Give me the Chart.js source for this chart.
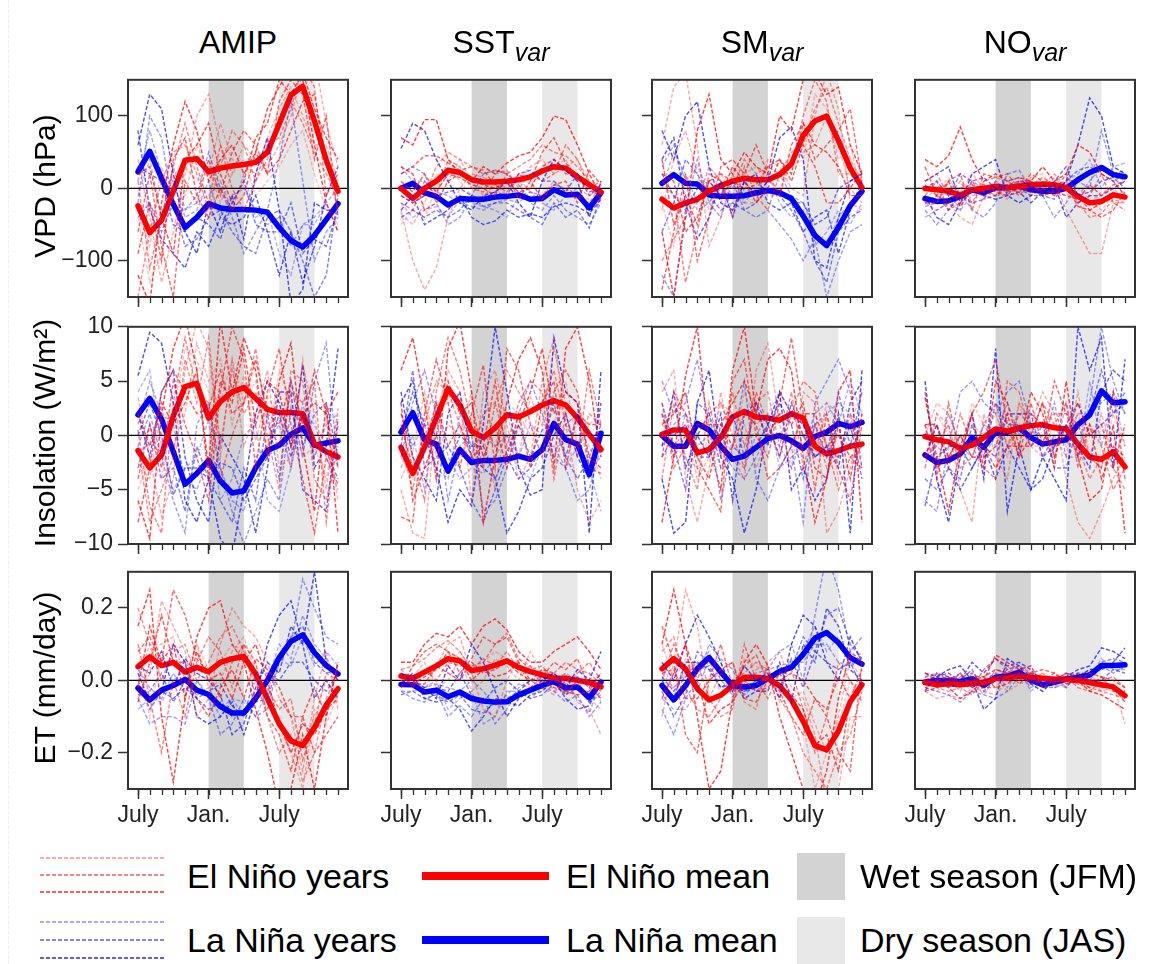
<!DOCTYPE html>
<html>
<head>
<meta charset="utf-8">
<script src="https://cdn.jsdelivr.net/npm/chart.js@4.4.0/dist/chart.umd.min.js"></script>
<style>
  body { margin: 0; background: #fff; width: 1156px; height: 964px; position: relative; overflow: hidden;
         font-family: "Liberation Sans", Arial, Helvetica, sans-serif; color: #000; }
  canvas { position: absolute; }
  .edge { position: absolute; left: 8px; top: 0; height: 964px; border-left: 1px dashed #eceef4; }
  .title { position: absolute; top: 26px; width: 220px; text-align: center; font-size: 32px; line-height: 1; white-space: nowrap; }
  .title i { font-size: 25px; position: relative; top: 8px; }
  .ylab { position: absolute; font-size: 30px; line-height: 1; white-space: nowrap; transform: translate(-50%, -50%) rotate(-90deg); }
  .leg { position: absolute; font-size: 34px; line-height: 1; white-space: nowrap; transform: translateY(-50%); }
  .swatch { position: absolute; width: 48px; height: 47px; }
  svg { position: absolute; }
</style>
</head>
<body>
<div class="edge"></div>
<script>
// ---- axes ----
const months = [0, 1, 2, 3, 4, 5, 6, 7, 8, 9, 10, 11, 12, 13, 14, 15, 16, 17];
const xMajor = [0, 6, 12];
const xMajorLabels = ['July', 'Jan.', 'July'];
const wetSeason = [6, 9];     // JFM
const drySeason = [12, 15];   // JAS

const columnTitles = ['AMIP', 'SST', 'SM', 'NO'];
const columnSubs = ['', 'var', 'var', 'var'];
const rowLabels = ['VPD (hPa)', 'Insolation (W/m²)', 'ET (mm/day)'];

const vpdRange = [-150, 150];
const vpdTicks = [-100, 0, 100];
const insRange = [-10, 10];
const insTicks = [-10, -5, 0, 5, 10];
const etRange = [-0.3, 0.3];
const etTicks = [-0.2, 0, 0.2];

// ---- AMIP ----
const amipVpdNinoMean = [-24, -61, -44, -4, 39, 41, 23, 28, 31, 33, 36, 50, 89, 129, 141, 93, 39, -4];
const amipVpdNinaMean = [23, 51, 14, -22, -54, -40, -21, -27, -29, -29, -30, -33, -54, -72, -81, -65, -43, -21];
const amipVpdNino = [
  [-120, -160, -20, 60, 120, 80, 10, 40, 60, 20, 50, 110, 140, 170, 150, 60, -20, -60],
  [40, -40, -130, -60, 20, 100, 130, 60, 20, 60, 40, 30, 60, 100, 160, 180, 90, 30],
  [-60, 20, -80, -150, 10, -20, 40, -10, 50, 80, 60, 20, 120, 150, 130, 40, 100, -40],
  [10, -110, -40, 30, 90, 30, -20, 60, 0, -30, 10, 60, 70, 110, 170, 140, -10, 20],
  [-30, -80, 30, -20, -10, 60, 20, 90, 40, 30, 20, 70, 110, 140, 100, 60, 60, 10],
  [-90, -20, -100, 40, 70, -10, -40, 0, -30, -10, 50, 20, 40, 80, 120, 130, 40, -30],
  [-150, -60, 10, 50, 60, 20, -30, 30, 80, 60, 10, 40, 100, 120, 90, 50, 20, -10],
  [20, 30, -40, -90, 40, 60, 90, 20, -20, 10, 70, 90, 150, 130, 160, 110, 70, 40],
  [-40, -130, -90, 20, 30, 10, 30, -20, 20, 40, -10, 10, 30, 60, 80, 20, -30, -50]
];
const amipVpdNina = [
  [60, 130, 110, 20, -60, -90, -20, -60, -10, -70, 20, 70, -30, -160, -140, -20, -30, -30],
  [-20, 100, 70, -30, -30, -10, 50, 0, -40, -90, -60, -30, 40, 120, 10, -100, -60, -40],
  [80, -30, -70, -90, -110, -60, -80, -40, -50, -40, -10, -60, -120, -60, -130, -80, -10, 30],
  [-10, 40, -40, 30, -30, -20, -10, 10, -30, 20, -40, -30, -90, -120, -50, -50, -20, -60],
  [30, 20, 10, -50, -60, -40, -50, -70, -20, 10, -50, -60, -60, -20, -90, -70, -80, -30],
  [-40, -20, -60, -20, -80, -70, -40, -30, -60, -80, -90, -40, -30, -60, -100, -150, -120, -10],
  [10, 80, 20, 10, -40, -30, 10, -40, -10, 0, -30, -50, -40, -80, -50, -40, -20, 0]
];
const amipInsNinoMean = [-1.4, -3.0, -1.8, 1.8, 4.5, 4.8, 1.6, 3.1, 4.0, 4.4, 3.4, 2.4, 2.1, 2.1, 2.0, -0.8, -1.5, -2.0];
const amipInsNinaMean = [1.9, 3.4, 1.5, -1.5, -4.5, -3.5, -2.3, -4.2, -5.3, -5.1, -3.0, -1.4, -0.9, 0.1, 0.7, -0.9, -0.7, -0.5];
const amipInsNino = [
  [-6.0, -9.5, 2.0, 8.0, 11.0, 6.0, -3.0, 10.5, 4.0, 9.0, 6.0, -2.0, 5.0, 8.5, -1.0, -7.0, 3.0, -9.0],
  [3.5, -2.0, -7.5, -4.0, 6.0, 10.5, 8.0, -2.0, 7.0, -1.0, 2.0, 6.0, -3.0, -2.0, 6.5, 2.0, -5.0, 2.5],
  [-4.0, 1.0, -3.0, 5.0, 1.0, -2.0, -6.0, 4.0, 10.0, 7.0, -3.0, 4.0, 8.0, 1.0, -4.0, -9.0, -2.0, -4.5],
  [0.5, -6.5, -9.0, 3.0, 9.0, 4.0, 3.0, -4.0, 0.0, 3.0, 8.0, 1.0, -1.0, 4.0, 3.0, 5.0, -8.0, 1.0],
  [-2.5, -4.0, 2.5, -1.0, 2.0, 8.5, 5.0, 7.0, 1.0, 5.5, -0.5, 3.5, 2.0, -3.0, 7.0, -2.0, 1.5, -6.0],
  [-8.0, -3.0, 4.0, 6.0, 4.0, 2.0, 2.5, 6.0, 2.0, 3.0, 7.0, 2.0, 1.0, 5.0, 1.0, 6.0, 2.0, 4.0],
  [-1.0, -8.0, -5.0, -2.0, 7.0, 3.0, 9.0, -1.0, 6.0, 2.0, 4.0, 0.0, -5.0, 6.0, 5.0, -4.0, -6.0, -1.0],
  [2.0, -1.0, 3.0, 1.0, 3.0, 6.0, -4.0, 5.0, 3.0, 8.0, 1.0, 5.0, 4.0, -1.0, 2.0, 3.0, 2.0, -3.0],
  [-5.0, -2.0, -4.0, 2.0, 8.0, 7.0, 4.0, 3.0, 7.0, 3.0, 5.0, -1.0, 6.0, 3.0, -2.0, -1.0, -4.0, 2.0]
];
const amipInsNina = [
  [5.5, 9.5, 8.5, 3.0, -6.0, -8.0, -4.0, -9.5, -11.0, -5.0, 2.0, 5.0, 3.0, -1.0, 6.5, -3.0, -1.0, 8.0],
  [-1.0, 2.0, -2.0, -6.0, -9.0, 1.0, 3.0, -3.0, -7.0, -10.0, -7.0, -4.0, -6.0, 2.5, -2.0, 5.0, 8.5, -3.0],
  [2.0, -2.0, 4.0, 6.0, -2.0, -6.0, -8.0, 0.0, -2.0, -4.0, -9.0, -3.0, 4.0, 4.0, -5.0, -6.0, -7.0, 1.5],
  [4.0, 6.0, -1.0, -5.0, -3.0, -2.0, 1.5, -6.0, -4.0, 0.0, 1.0, -6.0, -7.0, -3.0, 2.0, 1.0, -2.0, -5.0],
  [0.0, 3.0, 0.0, -5.5, -3.0, -3.0, -4.0, -2.5, -3.0, -6.0, -4.0, -2.0, 2.0, -2.0, 2.0, -1.0, -1.5, -4.0],
  [-3.0, 1.0, -4.0, -3.0, -7.0, -1.0, -4.0, -6.0, -8.0, -3.0, -6.0, 2.0, -4.0, 5.0, -1.0, 2.0, 3.0, -2.0],
  [1.0, 5.0, 2.0, 1.0, -4.0, -5.0, -2.0, -3.0, -6.0, -7.0, -2.0, -1.0, 1.0, -3.0, 3.0, -2.0, 1.0, 2.0]
];
const amipEtNinoMean = [0.038, 0.065, 0.041, 0.05, 0.023, 0.036, 0.024, 0.05, 0.06, 0.066, 0.018, -0.05, -0.12, -0.167, -0.18, -0.13, -0.068, -0.023];
const amipEtNinaMean = [-0.021, -0.054, -0.027, -0.014, 0.003, -0.027, -0.039, -0.072, -0.09, -0.09, -0.05, 0, 0.063, 0.108, 0.126, 0.077, 0.041, 0.018];
const amipEtNino = [
  [0.15, 0.25, -0.1, -0.28, -0.05, 0.12, 0.2, 0.22, 0.1, 0.05, -0.08, -0.2, -0.35, -0.3, -0.15, -0.3, -0.1, 0.05],
  [-0.05, 0.02, 0.22, 0.15, 0.08, -0.1, -0.05, 0.1, 0.2, 0.15, 0.12, 0.05, -0.05, -0.1, -0.25, -0.05, 0.08, -0.08],
  [0.08, 0.12, 0.05, 0.25, 0.18, 0.06, 0.02, -0.05, 0.05, 0.1, 0.05, -0.1, -0.15, -0.25, -0.1, -0.2, -0.15, -0.1],
  [0.1, -0.05, -0.2, 0.0, -0.1, 0.05, 0.12, 0.08, -0.02, 0.1, -0.05, -0.02, -0.08, -0.05, -0.22, -0.12, 0.02, 0.0],
  [0.0, 0.1, 0.1, 0.12, 0.0, 0.1, -0.02, 0.0, 0.08, 0.12, 0.02, -0.06, -0.1, -0.2, -0.3, -0.08, -0.12, -0.04],
  [-0.06, 0.05, 0.18, 0.05, 0.05, -0.05, -0.1, -0.02, 0.03, -0.05, 0.06, 0.03, -0.02, -0.1, -0.1, -0.02, -0.1, 0.05],
  [0.2, 0.1, 0.0, 0.08, 0.1, 0.0, 0.05, 0.12, 0.15, 0.08, 0.0, -0.1, -0.2, -0.15, -0.28, -0.2, -0.05, 0.02],
  [-0.02, 0.15, 0.05, 0.1, -0.05, 0.08, 0.0, 0.02, -0.05, 0.05, 0.1, 0.0, -0.12, -0.2, -0.12, -0.15, -0.08, -0.05],
  [0.05, -0.1, 0.08, 0.05, 0.02, 0.1, 0.03, 0.05, 0.1, 0.08, -0.02, -0.08, -0.05, -0.1, -0.18, -0.1, 0.0, -0.06]
];
const amipEtNina = [
  [0.02, -0.06, -0.03, 0.1, 0.05, -0.1, -0.12, -0.1, -0.06, -0.15, -0.05, 0.1, 0.18, 0.22, 0.1, 0.3, 0.05, 0.0],
  [-0.05, -0.12, -0.1, -0.1, -0.12, 0.0, -0.05, -0.15, -0.12, -0.05, -0.1, -0.08, 0.05, 0.1, 0.28, 0.2, 0.12, 0.1],
  [0.04, 0.02, 0.08, -0.02, 0.06, 0.02, 0.0, -0.04, -0.15, -0.12, -0.02, 0.05, 0.02, 0.15, 0.1, -0.05, 0.0, -0.05],
  [-0.08, -0.05, -0.06, 0.0, 0.03, -0.04, -0.02, -0.08, -0.05, -0.06, -0.1, -0.03, 0.06, 0.04, 0.12, 0.04, 0.08, 0.04],
  [0.0, -0.08, -0.03, -0.05, -0.02, -0.05, -0.03, -0.01, -0.07, -0.1, 0.02, 0.02, 0.0, 0.05, 0.05, 0.0, -0.03, 0.02],
  [-0.04, -0.03, 0.02, -0.06, 0.0, -0.05, -0.08, -0.06, -0.1, -0.08, -0.06, -0.05, 0.05, 0.12, 0.15, 0.05, 0.02, 0.03],
  [0.03, -0.02, -0.05, 0.02, -0.03, 0.0, -0.04, -0.1, -0.05, -0.1, -0.04, 0.0, 0.1, 0.06, 0.18, 0.1, 0.06, 0.0]
];

// ---- SST_var ----
const sstVpdNinoMean = [0, -14, 0, 10, 25, 22, 12, 9, 9, 10, 12, 16, 24, 30, 28, 16, 5, -5];
const sstVpdNinaMean = [0, 7, -6, -11, -23, -14, -15, -15, -12, -11, -9, -15, -14, -2, -9, -8, -27, -6];
const sstVpdNino = [
  [70, 60, 95, 95, 40, 20, 10, 30, 20, 35, 45, 50, 70, 100, 95, 60, 20, -10],
  [-30, -100, -140, -110, -40, 0, 20, 15, 10, 5, 10, 30, 40, 20, 30, 40, 10, 0],
  [20, 30, 45, 45, 35, 25, 30, 25, 5, -5, 20, 10, 50, 70, 35, 15, 5, -15],
  [-20, -30, 10, -10, 40, 30, 0, -5, 20, 25, 0, 20, 10, 20, 60, 40, 0, 10],
  [-35, -50, -20, 20, 10, 40, 10, -10, 5, -10, 15, -5, -10, 10, -5, -10, -15, -25],
  [10, -5, 20, -5, 20, 15, 5, 0, -10, 20, -15, 10, -15, 5, 10, -20, 25, 5],
  [-10, -20, -10, 30, 50, 40, 30, 20, 25, 20, 30, 40, 60, 50, 45, 30, 10, -20],
  [30, 20, -30, -20, 10, 20, 10, 5, 0, 10, -5, 0, 30, 40, 20, 20, -10, 5],
  [-50, -30, -40, 0, 30, 10, -10, -15, 10, 0, 20, 5, 20, 30, 40, 10, 0, -15]
];
const sstVpdNina = [
  [55, 90, 80, 40, 10, -20, -30, -10, -5, 10, -20, -40, 10, 40, 25, 10, -40, 10],
  [20, 30, 20, -20, -50, -40, -10, 20, 25, 20, 5, -20, -30, -10, -30, -40, -50, -20],
  [-30, -10, -50, -40, -30, -10, -40, -50, -45, -30, -40, -35, -40, -25, -20, -25, -35, -15],
  [-20, -40, -30, -25, -40, -15, -20, -25, -30, -40, -10, -5, -20, -30, -10, 0, -10, 0],
  [-10, -20, -10, -10, -5, 0, -10, -15, -5, -10, 20, 25, 10, 10, -5, 20, -5, 0],
  [-40, -30, -40, -30, -40, -30, -10, -25, -20, -20, -30, -40, -50, -20, -40, -30, -55, -10],
  [30, 10, 10, -5, -10, -20, -25, -30, -20, -15, -20, -5, -10, 5, 0, -15, -20, 5]
];
const sstInsNinoMean = [-1.1, -3.5, -1.1, 1.6, 4.3, 2.8, 0.4, -0.2, 0.7, 1.9, 1.7, 2.2, 2.8, 3.2, 2.8, 1.6, 0.1, -1.3];
const sstInsNinaMean = [0.3, 2.1, -0.4, -0.8, -3.3, -1.3, -2.5, -2.3, -2.3, -2.2, -1.9, -2.2, -1.3, 1.1, -0.4, -0.8, -3.6, 0.2];
const sstInsNino = [
  [6.0, 9.0, 3.0, -4.0, 8.0, 10.5, 4.0, -8.0, -2.0, 3.0, 7.0, 9.0, 6.0, -3.0, 8.0, 10.0, 5.0, -2.0],
  [-5.0, -9.0, -9.5, 2.0, 6.0, 4.0, -6.0, 4.0, 6.0, 1.0, -4.0, -2.0, 5.0, 9.0, 1.0, -5.0, -8.0, -6.0],
  [-7.5, -8.0, 2.0, 7.0, 3.0, -3.0, 2.0, 6.5, -3.0, 8.0, 6.0, 1.0, -2.0, 4.0, 6.0, 4.0, -3.0, -3.5],
  [2.0, -2.0, -6.0, 4.0, 9.0, 6.0, 1.0, -3.0, 3.0, -1.0, 3.0, 5.0, 4.0, -4.0, 2.0, -2.0, 6.0, 1.0],
  [-4.0, -1.5, 4.0, -2.0, 1.0, 0.0, 4.0, 0.0, -5.0, 2.0, -2.0, 3.5, 1.0, 8.0, 3.0, 1.0, -1.0, -4.0],
  [1.0, -3.0, -1.0, 3.0, -1.0, 1.0, -2.0, -1.0, 5.0, -2.0, 2.0, -3.0, 3.0, 5.0, -3.0, 2.0, 1.0, 1.0],
  [-1.0, -5.0, 1.0, 5.0, 4.0, 1.0, -2.0, 2.0, 3.0, 6.0, 4.0, 2.0, 3.0, 6.0, 1.0, -1.0, 2.0, 1.0],
  [3.0, -6.0, -3.0, 0.0, 5.0, 2.0, 3.0, -2.0, 1.0, -3.0, 1.0, 4.0, 8.0, 2.0, 4.0, 3.0, -2.0, -3.0],
  [-2.0, -4.0, 0.0, 2.0, 3.0, 4.0, 0.0, 1.0, -1.0, 3.0, 2.0, 0.0, 1.0, 1.0, 5.0, -1.0, 1.0, 2.0]
];
const sstInsNina = [
  [3.0, 5.0, 0.0, -3.0, -8.0, -5.0, -6.5, 1.0, 10.0, 4.0, -3.0, -5.5, -5.0, 9.0, 4.0, 3.0, -9.0, 6.0],
  [-2.0, 3.0, 6.0, 2.0, -6.0, -1.0, 0.0, -7.0, -6.0, -3.0, 2.0, 5.0, 2.0, -2.0, -3.0, -6.0, -5.0, -1.0],
  [4.0, -2.0, -4.0, -6.0, 2.0, 4.0, -2.0, -3.0, -4.0, -9.0, -7.0, -4.0, -3.0, 0.0, 2.0, -2.0, -4.0, 3.0],
  [-3.0, 0.0, -5.0, 3.0, -2.0, -4.0, -3.0, -3.5, -2.0, 0.0, -3.0, -4.0, -1.0, -1.0, -3.0, -1.0, -3.0, -7.0],
  [0.0, 4.0, 1.0, 0.0, -3.0, 0.0, -1.0, -1.0, -4.0, -1.5, 1.0, -2.0, 0.5, 1.0, -2.0, 2.0, 0.0, 0.0],
  [-1.0, 6.0, -3.0, -2.0, -1.0, -3.0, -6.0, -8.0, -5.0, -2.0, -4.0, -3.0, -1.0, 3.0, -2.0, -4.0, -2.0, 1.0],
  [2.0, -1.0, 1.0, -3.0, -4.0, 2.0, -1.0, 0.0, -1.0, 0.0, -2.0, 1.0, 0.0, -2.0, 1.0, 2.0, -3.0, -2.0]
];
const sstEtNinoMean = [0.012, 0.006, 0.023, 0.04, 0.06, 0.054, 0.027, 0.032, 0.042, 0.054, 0.036, 0.024, 0.015, 0.006, 0.006, 0, -0.006, -0.018];
const sstEtNinaMean = [-0.011, -0.012, -0.032, -0.027, -0.045, -0.032, -0.05, -0.057, -0.06, -0.059, -0.04, -0.027, -0.014, -0.003, -0.021, -0.018, -0.048, -0.005];
const sstEtNino = [
  [0.05, 0.05, 0.1, 0.13, 0.12, 0.15, 0.1, 0.15, 0.17, 0.14, 0.08, 0.05, 0.05, 0.08, 0.1, 0.12, 0.08, 0.03],
  [0.03, 0.0, -0.03, 0.04, 0.1, 0.12, 0.02, -0.08, -0.1, 0.0, 0.06, 0.04, -0.02, -0.04, 0.02, -0.06, -0.08, -0.15],
  [-0.02, 0.04, 0.08, 0.1, 0.08, 0.02, 0.06, 0.12, 0.1, 0.12, 0.05, -0.02, 0.01, 0.05, 0.03, 0.06, -0.02, -0.05],
  [0.02, -0.02, 0.03, 0.0, 0.05, 0.04, 0.04, 0.05, 0.1, 0.13, 0.06, 0.03, 0.04, 0.0, -0.02, 0.02, 0.05, 0.0],
  [0.0, 0.01, 0.05, -0.02, 0.0, 0.06, -0.03, 0.0, 0.06, 0.04, 0.0, 0.08, 0.02, -0.03, 0.0, -0.02, 0.02, -0.06],
  [0.01, -0.01, -0.01, 0.04, 0.02, 0.0, 0.05, 0.02, 0.03, 0.05, 0.02, 0.0, 0.03, 0.02, -0.04, 0.0, -0.01, -0.03],
  [0.03, 0.04, 0.06, 0.09, 0.11, 0.08, 0.03, 0.06, 0.04, 0.08, 0.03, 0.04, 0.01, 0.02, 0.05, 0.03, 0.02, -0.01],
  [0.0, -0.01, 0.01, 0.03, 0.08, 0.06, 0.0, 0.03, 0.01, 0.02, 0.05, 0.0, 0.0, -0.02, -0.03, -0.04, -0.03, 0.02],
  [-0.02, 0.0, 0.02, 0.05, 0.04, 0.08, 0.02, 0.05, 0.08, 0.06, 0.04, 0.02, 0.03, 0.01, -0.01, 0.0, -0.05, -0.08]
];
const sstEtNina = [
  [0.02, 0.0, -0.02, -0.05, 0.04, 0.0, 0.1, 0.05, -0.03, -0.1, -0.05, -0.03, 0.0, 0.02, -0.02, 0.03, 0.0, 0.08],
  [-0.03, -0.05, -0.06, -0.03, -0.1, -0.07, -0.1, -0.05, -0.12, -0.08, -0.02, 0.0, -0.02, -0.03, -0.06, -0.04, -0.1, -0.06],
  [-0.01, 0.02, -0.05, -0.06, -0.05, -0.08, -0.14, -0.1, -0.05, -0.06, -0.07, -0.04, -0.03, 0.0, -0.05, -0.08, -0.07, 0.0],
  [-0.03, -0.03, -0.02, 0.0, -0.08, -0.05, -0.03, -0.12, -0.1, -0.03, -0.03, -0.05, -0.02, 0.0, 0.02, 0.0, -0.06, -0.04],
  [0.0, -0.01, -0.04, -0.02, -0.03, 0.02, -0.04, -0.06, -0.02, 0.0, -0.03, 0.0, 0.01, -0.01, 0.0, 0.01, -0.02, 0.02],
  [-0.04, -0.03, -0.05, -0.04, -0.06, -0.04, -0.08, -0.09, -0.06, -0.05, -0.03, -0.05, -0.04, -0.01, -0.04, -0.02, -0.06, -0.03],
  [0.01, 0.0, -0.02, -0.01, -0.02, -0.03, 0.0, -0.03, -0.07, -0.04, -0.01, -0.02, 0.0, 0.02, -0.01, -0.05, -0.09, 0.0]
];

// ---- SM_var ----
const smVpdNinoMean = [-15, -27, -20, -15, -4, 4, 10, 14, 12, 12, 19, 34, 73, 93, 100, 66, 28, 1];
const smVpdNinaMean = [7, 19, 7, 6, -9, -11, -11, -10, -6, -3, -6, -14, -38, -65, -79, -54, -24, -4];
const smVpdNino = [
  [-60, -150, -40, 80, 130, 40, 20, 50, 30, 20, 100, 80, 150, 160, 130, 140, 60, 20],
  [60, 140, 160, 60, -80, -40, 20, -20, -20, 40, 30, 0, -10, 100, 160, 110, -20, -30],
  [-140, -60, 20, -100, -40, 30, 40, 20, 60, 20, -10, 60, 90, 40, 60, 80, 110, 10],
  [10, -10, -130, -60, 20, 10, -40, 30, -10, -30, 20, 30, 100, 150, 120, 20, 20, 0],
  [-30, 40, 80, 20, -30, -20, 20, 10, 10, -10, -10, 40, 50, 60, 100, 60, 0, -20],
  [40, -50, -10, -50, 10, 20, 10, 0, 5, 30, 40, 10, 60, 30, -20, -20, 0, 25],
  [-100, -70, -40, -20, 30, 10, 0, 40, 20, 30, 20, 50, 60, 110, 140, 90, 40, 10],
  [20, 10, -60, -40, 10, -10, 30, 10, -20, 0, 40, 20, 90, 60, 50, 30, -10, -10],
  [-20, -80, 10, 30, -10, 20, -10, 20, 30, 10, 10, 30, 40, 130, 110, 40, 60, -10]
];
const smVpdNina = [
  [80, 40, 100, 120, 30, -20, -30, 10, -10, 10, 70, 85, 40, -100, -110, -40, 10, 20],
  [-120, -150, -30, 40, -20, -40, 10, -30, -40, -30, -50, -70, -100, -70, -150, -100, -60, -50],
  [40, 70, -20, -70, -40, 10, -40, 10, 20, -20, -30, -20, -60, -40, -30, -90, -30, 10],
  [0, 50, 20, -20, -20, 0, -10, -20, 0, 20, -20, -40, -30, -80, -60, -30, -50, -20],
  [20, -10, -30, 0, 10, -10, 10, -10, -10, -5, 0, -20, -20, -50, -40, 0, 10, 20],
  [-60, -20, 40, 20, -10, -30, -20, -30, -20, 0, -10, -30, -60, -100, -130, -60, -40, -30],
  [30, 60, 10, -30, -20, 10, -30, 0, -10, 10, 20, -10, -20, -60, -80, -40, -20, 0]
];
const smInsNinoMean = [0.1, 0.5, 0.5, -1.6, -1.3, -0.2, 1.7, 2.2, 1.7, 1.6, 1.4, 2.0, 1.6, -1.0, -1.7, -1.4, -1.0, -0.8];
const smInsNinaMean = [0, -1.0, -1.0, 1.1, 0.5, -1.0, -2.2, -1.9, -1.1, -0.3, 0, -0.5, -1.2, -0.1, 0.3, 1.1, 0.8, 1.2];
const smInsNino = [
  [-8.0, -2.0, 5.5, 10.0, -1.0, -5.0, 6.0, 10.0, 2.0, 7.0, 8.0, 6.0, -2.0, -8.0, -4.0, 4.0, 6.0, -8.0],
  [4.0, 6.0, -4.0, -8.0, -3.0, 4.0, -2.0, -4.0, 6.0, 8.5, 1.0, -3.0, 4.0, 3.0, -9.0, -7.0, -3.0, 2.0],
  [-2.0, 4.0, 2.0, -3.0, -5.0, -7.0, 5.0, 7.0, 0.0, -2.0, 3.0, 9.0, 2.0, -5.0, 2.0, -3.0, -6.0, 1.0],
  [3.0, -3.0, -1.0, 0.0, 2.0, 3.0, 0.0, -3.0, 4.0, 1.0, -2.0, 2.0, 5.0, 4.0, -1.0, -5.0, -2.0, -3.0],
  [1.0, 0.0, 1.0, -4.0, -2.0, 3.0, 2.0, 1.0, -3.0, 0.0, 2.0, -1.0, -1.0, -2.0, 3.0, 2.0, 1.0, 4.0],
  [2.0, -2.0, 0.0, 1.0, 1.0, 1.0, -1.0, 2.0, 1.0, -4.0, -3.0, -1.0, 2.0, 2.0, -1.0, 0.0, -2.0, -1.0],
  [-4.0, 3.0, -2.0, -5.0, 3.0, -2.0, 4.0, -1.0, 3.0, 4.0, -1.0, 4.0, -3.0, 1.0, -3.0, -2.0, 2.0, -3.0],
  [1.0, 2.0, 4.0, -2.0, -4.0, 1.0, 3.0, 5.0, 2.0, 0.0, 2.0, 1.0, 3.0, -3.0, -4.0, 1.0, -4.0, 2.0],
  [2.0, -1.0, -2.0, -3.0, 0.0, -3.0, -1.0, 4.0, 1.0, 2.0, 4.0, 2.0, 0.0, -1.0, 2.0, -4.0, 1.0, -2.0]
];
const smInsNina = [
  [-4.0, -9.0, -8.0, 3.0, 6.0, -2.0, -4.0, -9.0, -5.0, 1.0, 4.0, -5.0, -3.0, -6.0, -4.0, 2.0, -9.0, 6.0],
  [5.0, 2.0, 3.0, 7.0, 1.0, -6.0, -1.0, 5.0, -4.0, -6.0, -3.0, -1.0, -8.0, 3.0, 5.0, 7.0, 4.0, -3.0],
  [-1.0, 4.0, -3.0, 0.0, -2.0, 2.0, -6.0, 2.0, 3.0, -1.0, 4.0, 2.0, 1.0, -2.0, -1.0, -3.0, 3.0, 5.0],
  [2.0, -2.0, 2.0, -1.0, 0.0, 1.0, -2.0, -3.0, 0.0, 2.0, -3.0, -2.0, -1.0, 2.0, 3.0, 1.0, 5.0, 2.0],
  [-2.0, 0.0, 1.0, -2.0, -2.0, 0.0, 2.0, -2.0, -1.0, 1.0, -2.0, 3.0, 0.0, -2.0, -1.0, -2.0, 1.0, -4.0],
  [3.0, -1.0, -5.0, 3.0, 2.0, -3.0, -1.0, -2.0, 3.0, 1.0, 3.0, 1.0, -4.0, 1.0, -2.0, 4.0, -1.0, 4.0],
  [-1.0, 1.0, 2.0, 0.0, 2.0, -1.0, -3.0, -4.0, -2.0, 0.0, -1.0, -3.0, 0.0, 1.0, 2.0, 3.0, 2.0, 0.0]
];
const smEtNinoMean = [0.032, 0.06, 0.032, -0.023, -0.054, -0.041, -0.014, 0.009, 0.009, 0.005, -0.015, -0.054, -0.113, -0.18, -0.192, -0.14, -0.059, -0.012];
const smEtNinaMean = [-0.014, -0.054, -0.014, 0.032, 0.063, 0.023, -0.014, -0.018, -0.014, 0.005, 0.025, 0.036, 0.072, 0.117, 0.132, 0.104, 0.063, 0.045];
const smEtNino = [
  [0.1, 0.25, 0.1, -0.1, -0.3, -0.25, -0.05, 0.05, 0.1, 0.04, -0.1, -0.2, -0.3, -0.35, -0.25, -0.05, 0.08, 0.05],
  [-0.1, 0.05, 0.25, 0.15, -0.05, 0.02, 0.05, -0.06, -0.08, 0.05, 0.08, -0.02, -0.05, -0.15, -0.35, -0.3, -0.1, -0.1],
  [0.15, 0.05, -0.15, -0.2, 0.0, 0.1, -0.02, 0.04, 0.07, 0.0, -0.03, -0.1, -0.15, -0.05, -0.1, -0.2, -0.25, 0.05],
  [0.0, 0.1, 0.02, 0.05, -0.05, -0.1, -0.08, 0.1, 0.0, -0.05, 0.02, 0.03, -0.08, -0.2, -0.1, 0.05, 0.0, -0.06],
  [0.05, -0.03, 0.05, 0.02, 0.06, -0.04, -0.03, -0.02, 0.03, 0.04, -0.06, -0.05, -0.03, -0.12, -0.2, -0.1, 0.06, 0.0],
  [0.02, 0.03, -0.05, -0.05, 0.0, 0.03, 0.05, -0.05, -0.06, 0.0, 0.0, 0.02, 0.0, -0.05, -0.08, 0.01, -0.05, 0.03],
  [0.08, 0.12, -0.02, -0.08, -0.1, -0.05, 0.0, 0.02, 0.05, 0.03, -0.05, -0.1, -0.2, -0.25, -0.3, -0.2, -0.15, -0.03],
  [-0.05, 0.02, 0.1, 0.0, -0.12, -0.08, -0.06, 0.0, -0.03, -0.02, 0.02, -0.04, -0.08, -0.18, -0.15, -0.25, -0.05, 0.0],
  [0.1, 0.0, 0.06, 0.02, 0.0, 0.02, -0.04, 0.06, 0.04, 0.02, -0.01, -0.06, -0.12, -0.3, -0.2, -0.12, 0.0, -0.04]
];
const smEtNina = [
  [0.05, 0.0, 0.1, 0.18, 0.12, 0.05, -0.03, 0.04, 0.0, 0.02, -0.05, 0.1, 0.18, 0.15, 0.05, 0.0, 0.12, 0.05],
  [-0.08, -0.15, -0.05, 0.0, 0.1, 0.06, 0.03, -0.04, -0.01, 0.03, 0.08, 0.1, 0.0, 0.18, 0.35, 0.25, 0.08, 0.12],
  [0.0, -0.05, 0.05, 0.05, 0.03, -0.02, 0.0, -0.05, -0.03, -0.03, 0.05, -0.06, 0.1, 0.05, 0.2, 0.15, 0.03, 0.0],
  [-0.05, -0.08, -0.08, -0.03, 0.06, 0.05, -0.05, -0.01, -0.03, 0.0, 0.03, 0.04, 0.08, 0.15, 0.08, 0.12, 0.04, 0.08],
  [0.01, -0.03, 0.01, 0.03, 0.04, -0.02, -0.01, -0.03, 0.0, 0.01, -0.02, 0.06, -0.02, 0.08, 0.05, 0.03, 0.05, -0.02],
  [-0.03, -0.1, -0.04, 0.08, 0.05, 0.02, -0.02, -0.03, -0.02, 0.0, 0.02, 0.03, 0.12, 0.08, 0.18, 0.2, 0.1, 0.06],
  [0.02, -0.02, 0.02, 0.04, 0.08, 0.0, -0.03, 0.0, 0.02, 0.03, 0.04, 0.05, 0.05, 0.1, 0.1, 0.05, 0.04, 0.06]
];

// ---- NO_var ----
const noVpdNinoMean = [0, -2, -4, -9, -2, 0, 3, 1, 3, 5, 6, 5, 1, -11, -20, -18, -9, -12];
const noVpdNinaMean = [-14, -18, -17, -11, -2, -6, 1, 1, 3, -2, -4, -4, 0, 12, 22, 29, 19, 16];
const noVpdNino = [
  [40, 30, 45, 85, 40, 10, 20, 10, 15, 10, 30, 10, 20, 60, 50, 20, 10, -10],
  [-20, -30, -20, -40, -50, -10, 0, -5, 10, -10, 0, 10, -30, -60, -90, -90, -20, -20],
  [30, -10, 10, 20, -30, 20, 15, 20, 0, 20, 10, -5, 20, -10, -30, -40, -30, -5],
  [-10, 10, -30, -20, 10, -15, -10, 5, -10, 5, 15, 5, 10, -20, -10, 20, -20, -30],
  [-15, 0, 5, -5, 20, 0, 0, -15, 5, 0, -5, 15, 0, -10, -20, -5, 0, -15],
  [5, -10, -20, 0, 5, -5, -10, 0, -5, 10, -10, -5, -10, -15, 5, -10, 5, 10],
  [10, 20, -10, 10, -20, 10, 15, 10, 0, -5, 5, 20, 0, -20, -40, -35, -15, -20],
  [-20, -20, 10, -25, 0, 5, -5, -10, 10, 10, 0, -10, 5, -25, -30, -20, -5, -15],
  [0, -5, 15, -15, 10, -5, 10, 0, -10, 15, 20, 0, -10, 0, -15, -30, -10, -5]
];
const noVpdNina = [
  [-10, -40, -50, -20, 20, 30, 40, -10, -20, -10, 5, -5, 10, 60, 125, 100, 30, 20],
  [-30, -50, -30, -5, -30, -40, -20, 20, 25, 0, -10, -40, -20, 10, 0, 80, 20, 25],
  [10, 20, 30, -20, 0, -10, -15, -10, -5, -20, -5, 5, -40, -20, -10, -10, 0, 10],
  [-40, -30, -20, -30, -10, -5, 0, 0, 5, 10, 0, -10, 10, 20, 40, 0, 30, 35],
  [0, 10, -10, 20, 10, 15, 0, 5, 10, 5, -10, 10, 30, -10, -5, 10, 15, 0],
  [-20, -10, -30, -10, -20, -15, 10, -5, 0, -10, -10, -15, 10, 25, 30, 20, 10, 20],
  [-25, -20, -5, -30, 10, 0, -10, 10, 15, 0, 0, 0, 0, -10, 10, 30, 20, 10]
];
const noInsNinoMean = [-0.1, -0.4, -0.6, -1.2, -0.9, -0.2, 0.6, 0.4, 0.7, 0.9, 1.0, 0.7, 0.6, -0.8, -2.0, -2.2, -1.5, -2.9];
const noInsNinaMean = [-1.8, -2.5, -2.3, -1.7, -0.2, -1.1, 0.3, 0.3, 0.7, -0.2, -0.8, -0.6, -0.4, 1.0, 1.9, 4.1, 3.0, 3.1];
const noInsNino = [
  [3.5, -2.0, -7.0, -1.0, 2.0, -3.0, 5.0, 3.0, -1.0, 4.0, 2.0, -3.0, 5.0, -2.0, -6.0, -5.0, 1.0, -9.0],
  [-3.0, 2.0, 1.0, -5.0, -8.0, 2.0, -2.0, -4.0, 3.0, 1.0, 4.0, 2.0, -4.0, -8.0, -9.5, -7.0, -4.0, -2.0],
  [1.0, -4.0, 3.0, -2.0, 2.0, 4.0, 7.0, 1.0, -2.0, 3.0, -1.0, 5.0, 2.0, 1.0, -2.0, -3.0, 4.0, -4.0],
  [-2.0, 1.0, -3.0, 2.0, -1.0, -3.0, -4.0, 5.0, 4.0, 0.0, 3.0, 1.0, 3.0, -3.0, 1.0, -1.0, -5.0, -3.0],
  [0.0, 3.0, 2.0, -1.0, 1.0, 0.0, 2.0, -1.0, 1.0, -1.0, -2.0, 0.0, -2.0, 4.0, -2.0, 2.0, -2.0, 0.5],
  [4.0, -3.0, -2.0, -1.5, -1.0, -1.0, -3.0, -1.0, -1.0, -1.0, 0.0, -1.0, 0.0, 3.0, 0.0, 1.0, -3.0, 1.0],
  [-2.0, -1.0, 1.0, -3.0, -2.0, 1.0, 3.0, -1.0, 2.0, 2.0, 1.0, 2.0, 2.0, -1.0, -4.0, -2.0, -3.0, -5.0],
  [1.0, 1.0, -2.0, 0.0, -2.0, -2.0, -1.0, 2.0, -2.0, 0.0, 3.0, -2.0, 1.0, -2.0, 1.0, -4.0, -1.0, -2.0],
  [-3.0, 2.0, 0.0, -2.0, 3.0, 1.0, 0.0, -2.0, 3.0, -1.0, -1.0, 1.0, -1.0, 2.0, -2.0, -3.0, 2.0, -1.0]
];
const noInsNina = [
  [5.0, -4.0, -8.0, -2.0, 2.0, -4.0, 8.0, -7.0, -1.0, -5.0, -2.0, -4.0, -6.0, 10.0, 6.0, 9.0, -3.0, 7.0],
  [-6.0, -7.0, -1.0, 4.0, 5.0, 3.0, 2.0, 4.0, 5.0, 1.0, -1.0, 3.0, -2.0, -2.0, 3.0, 10.0, 5.0, 2.0],
  [-2.0, 1.0, -3.0, -5.0, -3.0, -1.0, -4.0, -1.0, -3.0, -5.0, -4.0, -1.0, 1.0, -1.0, -3.0, 4.0, 6.0, 5.0],
  [1.0, -3.0, 2.0, -1.0, -2.0, -2.0, 0.0, 3.0, 0.0, 2.0, 1.0, -2.0, 3.0, -2.0, 5.0, -1.0, 4.0, -1.0],
  [-6.5, -2.0, -1.0, -1.0, -3.0, -1.0, -2.0, 2.0, 2.0, 2.0, -2.0, -1.0, 1.0, 3.0, 0.0, 1.0, 2.0, 3.0],
  [-4.0, -5.0, -3.0, -4.0, 1.0, -2.0, 3.0, 1.0, 1.0, -1.0, 1.0, -3.0, -3.0, 1.0, 2.0, 6.0, 2.0, 4.0],
  [0.0, -1.0, -2.0, 0.0, -2.0, 1.0, -1.0, 0.0, 2.0, 1.0, -2.0, 0.0, 0.0, 2.0, 2.0, 3.0, 4.0, 2.0]
];
const noEtNinoMean = [-0.006, -0.012, -0.009, -0.012, -0.009, -0.006, 0.005, 0.006, 0.012, 0.009, 0.006, 0.003, 0.003, 0, -0.006, -0.012, -0.018, -0.042];
const noEtNinaMean = [-0.005, 0, 0, -0.003, 0.005, -0.014, 0.009, 0.012, 0.023, 0, -0.012, -0.005, 0.003, 0.009, 0.015, 0.041, 0.041, 0.043];
const noEtNino = [
  [0.02, 0.0, -0.02, -0.05, -0.03, 0.0, 0.07, 0.05, 0.03, 0.04, -0.02, 0.0, 0.02, 0.0, -0.03, -0.04, -0.06, -0.08],
  [-0.03, -0.05, -0.04, -0.05, -0.02, -0.03, -0.04, 0.0, 0.03, 0.0, 0.02, -0.01, -0.02, 0.02, 0.0, -0.02, -0.01, -0.12],
  [0.01, 0.02, 0.0, 0.02, -0.02, 0.03, 0.06, 0.03, -0.01, 0.02, 0.03, 0.02, 0.0, 0.0, 0.02, 0.01, -0.03, -0.03],
  [-0.02, -0.01, -0.01, 0.01, 0.02, -0.02, -0.02, 0.02, 0.04, 0.02, 0.0, 0.01, 0.01, -0.02, -0.03, 0.0, 0.01, -0.02],
  [0.0, 0.01, 0.02, -0.01, 0.0, -0.04, 0.01, -0.03, -0.01, 0.0, 0.02, 0.0, 0.02, 0.01, 0.0, -0.03, -0.02, -0.04],
  [-0.03, -0.02, -0.01, 0.0, 0.0, 0.01, -0.02, -0.01, 0.02, -0.01, 0.0, 0.02, -0.01, 0.0, -0.02, 0.01, 0.0, -0.02],
  [0.0, -0.02, -0.03, -0.02, -0.04, 0.0, 0.02, 0.01, 0.02, 0.01, 0.0, -0.01, 0.0, -0.01, -0.02, -0.03, -0.04, -0.05],
  [-0.01, 0.0, 0.01, -0.02, 0.01, 0.01, 0.03, 0.02, 0.0, 0.02, 0.01, 0.0, 0.01, 0.0, 0.0, -0.01, -0.02, -0.06],
  [-0.02, -0.03, 0.0, 0.0, -0.03, -0.02, 0.0, 0.04, 0.01, 0.0, -0.01, 0.01, 0.0, 0.01, 0.02, -0.02, -0.03, -0.03]
];
const noEtNina = [
  [0.02, 0.01, 0.03, 0.04, 0.0, -0.08, -0.05, 0.06, 0.04, -0.01, -0.03, 0.0, 0.01, 0.03, 0.04, 0.09, 0.08, 0.06],
  [-0.02, -0.03, -0.04, -0.06, -0.03, -0.04, -0.05, -0.03, 0.01, 0.0, -0.02, -0.02, -0.01, 0.0, 0.0, 0.04, 0.02, 0.04],
  [-0.03, 0.02, 0.01, 0.0, 0.05, 0.02, 0.06, 0.04, 0.05, 0.03, -0.02, 0.0, 0.01, 0.01, 0.03, 0.03, 0.05, 0.09],
  [0.01, -0.01, 0.0, -0.03, 0.02, 0.0, 0.02, -0.02, 0.03, -0.03, 0.0, -0.02, 0.02, 0.0, 0.01, 0.06, 0.03, 0.03],
  [0.0, 0.01, -0.01, 0.02, -0.02, 0.0, 0.01, 0.0, 0.02, 0.02, -0.01, 0.01, -0.02, 0.02, 0.0, 0.0, 0.03, 0.02],
  [0.0, 0.01, 0.02, 0.0, 0.03, -0.03, 0.0, 0.03, 0.04, 0.01, -0.02, -0.01, 0.01, 0.02, 0.02, 0.05, 0.06, 0.05],
  [-0.01, 0.0, -0.02, -0.01, 0.01, -0.02, 0.03, 0.02, 0.02, -0.02, 0.0, 0.0, 0.02, 0.01, 0.03, 0.03, 0.04, 0.03]
];

// ---- layout ----
const FONT = '"Liberation Sans", Arial, Helvetica, sans-serif';
const PLOT_W = 220, PLOT_H = 222;
const AXIS_W = 90, XAXIS_H = 45, PAD_T = 14, PAD_R = 8;
const colLeft = [128, 391, 652, 915];
const rowTop = [75, 322, 567];
const ninoAlpha = [0.75, 0.35, 0.6, 0.5, 0.3, 0.65, 0.45, 0.7, 0.25];
const ninaAlpha = [0.7, 0.4, 0.65, 0.3, 0.55, 0.5, 0.35];

const minus = s => String(s).replace('-', '\u2212');
const rowAxes = [
  { range: vpdRange, ticks: vpdTicks, fmt: v => minus(v) },
  { range: insRange, ticks: insTicks, fmt: v => minus(v) },
  { range: etRange, ticks: etTicks, fmt: v => minus(v.toFixed(1)) }
];

const panels = [
  [amipVpdNino, amipVpdNina, amipVpdNinoMean, amipVpdNinaMean],
  [sstVpdNino, sstVpdNina, sstVpdNinoMean, sstVpdNinaMean],
  [smVpdNino, smVpdNina, smVpdNinoMean, smVpdNinaMean],
  [noVpdNino, noVpdNina, noVpdNinoMean, noVpdNinaMean],
  [amipInsNino, amipInsNina, amipInsNinoMean, amipInsNinaMean],
  [sstInsNino, sstInsNina, sstInsNinoMean, sstInsNinaMean],
  [smInsNino, smInsNina, smInsNinoMean, smInsNinaMean],
  [noInsNino, noInsNina, noInsNinoMean, noInsNinaMean],
  [amipEtNino, amipEtNina, amipEtNinoMean, amipEtNinaMean],
  [sstEtNino, sstEtNina, sstEtNinoMean, sstEtNinaMean],
  [smEtNino, smEtNina, smEtNinoMean, smEtNinaMean],
  [noEtNino, noEtNina, noEtNinoMean, noEtNinaMean]
];

const pts = vals => vals.map((v, i) => ({ x: months[i], y: v }));

// season shading + zero line under the data; frame and minor month ticks on top
const decor = {
  id: 'decor',
  beforeDatasetsDraw(chart) {
    const { ctx, chartArea: a, scales: { x, y } } = chart;
    ctx.save();
    ctx.fillStyle = '#d3d3d3';
    ctx.fillRect(x.getPixelForValue(wetSeason[0]), a.top, x.getPixelForValue(wetSeason[1]) - x.getPixelForValue(wetSeason[0]), a.bottom - a.top);
    ctx.fillStyle = '#e8e8e8';
    ctx.fillRect(x.getPixelForValue(drySeason[0]), a.top, x.getPixelForValue(drySeason[1]) - x.getPixelForValue(drySeason[0]), a.bottom - a.top);
    const y0 = y.getPixelForValue(0);
    ctx.strokeStyle = '#000';
    ctx.lineWidth = 1.3;
    ctx.beginPath(); ctx.moveTo(a.left, y0); ctx.lineTo(a.right, y0); ctx.stroke();
    ctx.restore();
  },
  afterDraw(chart) {
    const { ctx, chartArea: a, scales: { x } } = chart;
    ctx.save();
    ctx.strokeStyle = '#333';
    ctx.lineWidth = 2;
    ctx.strokeRect(a.left, a.top, a.right - a.left, a.bottom - a.top);
    ctx.lineWidth = 1.3;
    ctx.beginPath();
    months.forEach(m => {
      const px = Math.round(x.getPixelForValue(m)) + 0.5;
      ctx.moveTo(px, a.bottom); ctx.lineTo(px, a.bottom + 6);
    });
    ctx.stroke();
    ctx.restore();
  }
};

function makePanel(idx) {
  const row = Math.floor(idx / 4), col = idx % 4;
  const [nino, nina, ninoMean, ninaMean] = panels[idx];
  const ax = rowAxes[row];
  const cv = document.createElement('canvas');
  cv.width = AXIS_W + PLOT_W + PAD_R;
  cv.height = PAD_T + PLOT_H + XAXIS_H;
  cv.style.left = (colLeft[col] - AXIS_W) + 'px';
  cv.style.top = (rowTop[row] - PAD_T) + 'px';
  document.body.appendChild(cv);

  const datasets = [];
  nino.forEach((d, i) => datasets.push({ data: pts(d), borderColor: `rgba(255,0,0,${ninoAlpha[i]})`, borderWidth: 1.4, borderDash: [4, 2] }));
  nina.forEach((d, i) => datasets.push({ data: pts(d), borderColor: `rgba(0,0,255,${ninaAlpha[i]})`, borderWidth: 1.4, borderDash: [4, 2] }));
  datasets.push({ data: pts(ninoMean), borderColor: '#ff0000', borderWidth: 5.5, borderCapStyle: 'round', borderJoinStyle: 'round' });
  datasets.push({ data: pts(ninaMean), borderColor: '#0000ff', borderWidth: 5.5, borderCapStyle: 'round', borderJoinStyle: 'round' });

  const grid = { drawOnChartArea: false, drawTicks: true, tickLength: 10, tickColor: '#333', tickWidth: 1.5 };
  new Chart(cv, {
    type: 'line',
    data: { datasets },
    options: {
      responsive: false,
      animation: false,
      devicePixelRatio: 1,
      layout: { padding: { top: PAD_T, right: PAD_R, left: 0, bottom: 0 } },
      plugins: { legend: { display: false }, tooltip: { enabled: false } },
      elements: { point: { radius: 0 }, line: { tension: 0 } },
      scales: {
        x: {
          type: 'linear', min: -0.85, max: 17.85,
          afterFit: s => { s.height = XAXIS_H; },
          afterBuildTicks: s => { s.ticks = xMajor.map(v => ({ value: v })); },
          ticks: {
            autoSkip: false, maxRotation: 0, minRotation: 0, padding: 3, color: '#222',
            font: { size: 23, family: FONT },
            callback: v => row === 2 ? xMajorLabels[xMajor.indexOf(v)] : ''
          },
          grid, border: { display: false }
        },
        y: {
          min: ax.range[0], max: ax.range[1],
          afterFit: s => { s.width = AXIS_W; },
          afterBuildTicks: s => { s.ticks = ax.ticks.map(v => ({ value: v })); },
          ticks: {
            autoSkip: false, padding: 5, color: '#222',
            font: { size: 23, family: FONT },
            callback: v => col === 0 ? ax.fmt(v) : ''
          },
          grid, border: { display: false }
        }
      }
    },
    plugins: [decor]
  });
}

for (let i = 0; i < panels.length; i++) makePanel(i);

// column titles and row labels
columnTitles.forEach((t, c) => {
  const el = document.createElement('div');
  el.className = 'title';
  el.style.left = colLeft[c] + 'px';
  el.innerHTML = t + (columnSubs[c] ? `<i>${columnSubs[c]}</i>` : '');
  document.body.appendChild(el);
});
rowLabels.forEach((t, r) => {
  const el = document.createElement('div');
  el.className = 'ylab';
  el.style.left = '45px';
  el.style.top = (rowTop[r] + PLOT_H / 2) + 'px';
  el.textContent = t;
  document.body.appendChild(el);
});
</script>

<!-- legend -->
<svg style="left:40px;top:850px" width="126" height="120">
  <line x1="0" x2="126" y1="8" y2="8" stroke="rgba(255,0,0,0.45)" stroke-width="1.5" stroke-dasharray="4 2"/>
  <line x1="0" x2="126" y1="25" y2="25" stroke="rgba(255,0,0,0.65)" stroke-width="1.5" stroke-dasharray="4 2"/>
  <line x1="0" x2="126" y1="42" y2="42" stroke="rgba(255,0,0,0.85)" stroke-width="1.5" stroke-dasharray="4 2"/>
  <line x1="0" x2="126" y1="72" y2="72" stroke="rgba(0,0,255,0.45)" stroke-width="1.5" stroke-dasharray="4 2"/>
  <line x1="0" x2="126" y1="90" y2="90" stroke="rgba(0,0,255,0.65)" stroke-width="1.5" stroke-dasharray="4 2"/>
  <line x1="0" x2="126" y1="108" y2="108" stroke="rgba(0,0,255,0.85)" stroke-width="1.5" stroke-dasharray="4 2"/>
</svg>
<div class="leg" style="left:187px;top:876px">El Niño years</div>
<div class="leg" style="left:187px;top:940px">La Niña years</div>
<svg style="left:422px;top:860px" width="127" height="100">
  <line x1="0" x2="127" y1="16" y2="16" stroke="#ff0000" stroke-width="8"/>
  <line x1="0" x2="127" y1="80" y2="80" stroke="#0000ff" stroke-width="8"/>
</svg>
<div class="leg" style="left:566px;top:876px">El Niño mean</div>
<div class="leg" style="left:566px;top:940px">La Niña mean</div>
<div class="swatch" style="left:797px;top:853px;background:#d3d3d3"></div>
<div class="swatch" style="left:797px;top:917px;background:#e8e8e8"></div>
<div class="leg" style="left:860px;top:876px">Wet season (JFM)</div>
<div class="leg" style="left:860px;top:940px">Dry season (JAS)</div>
</body>
</html>
